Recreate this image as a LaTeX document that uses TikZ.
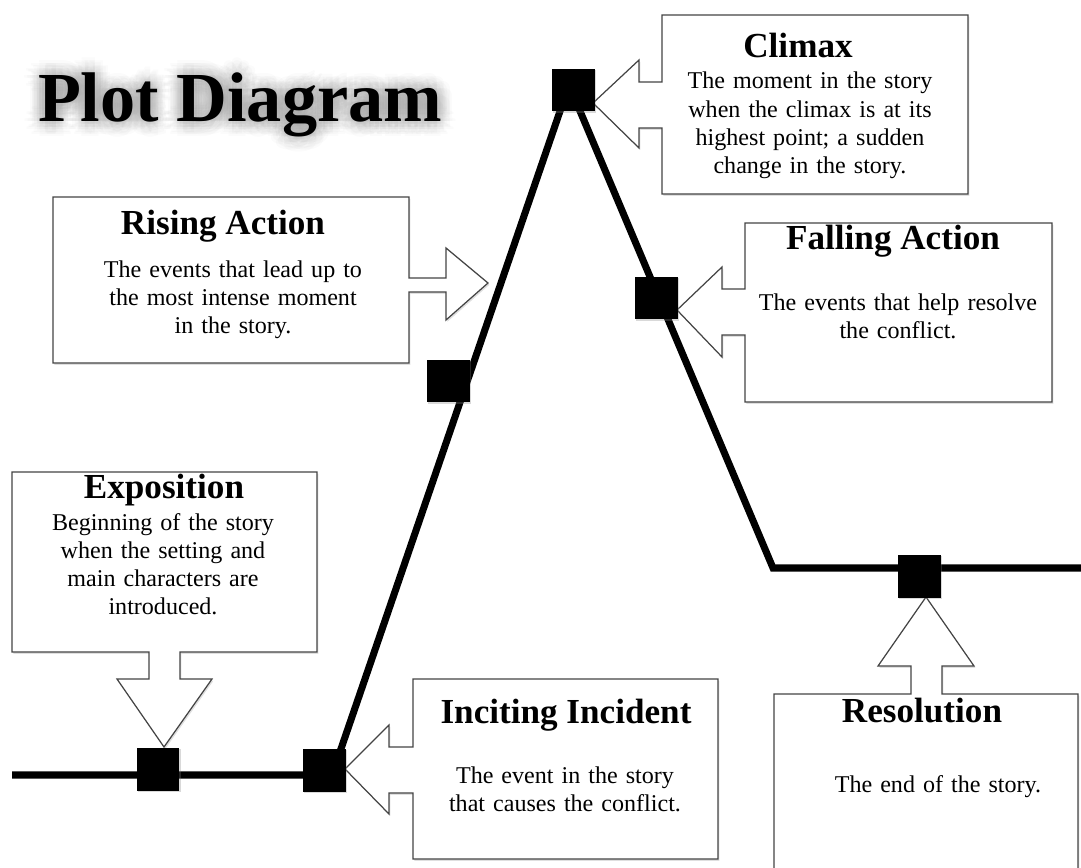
\documentclass[tikz,border=0pt]{standalone}
\usepackage{fontspec}
\setmainfont{Liberation Serif}
\usetikzlibrary{shadows}
\definecolor{calloutline}{RGB}{68,68,68}

\tikzset{
  plotline/.style={line width=4pt},
  plotmark/.style={fill=black, minimum size=0.86cm, inner sep=0pt,
    drop shadow={shadow xshift=0.8pt, shadow yshift=-1pt, opacity=0.3, fill=black!50}},
  callout/.style={draw=calloutline, line width=0.7pt, fill=white,
    drop shadow={shadow xshift=0.8pt, shadow yshift=-1pt, opacity=0.25, fill=black!50}},
  titletext/.style={font=\bfseries\fontsize{40}{48}\selectfont, anchor=base, inner sep=0pt},
  heading/.style={font=\bfseries\fontsize{20}{24}\selectfont, anchor=base, inner sep=0pt},
  blurb/.style={font=\fontsize{13.7}{16}\selectfont, text width=6cm, align=center,
    anchor=base, inner sep=0pt},
}

\begin{document}
\begin{tikzpicture}[x=0.02cm,y=-0.02cm]
\clip (0,0) rectangle (1081,868);

% title with its glow
\foreach \ang in {0,30,...,330}
  \foreach \rad in {3,6,9,12,15}
    \node[titletext, text=black!40, opacity=0.045] (glow-\ang-\rad) at ([shift={(\ang:\rad)}]240,122) {Plot Diagram};
\node[titletext] (title) at (240,122) {Plot Diagram};

% callout boxes
\draw[callout] (662,15) -- (968,15) -- (968,194) -- (662,194) -- (662,128) -- (639,128)
  -- (639,148) -- (593,103) -- (639,60) -- (639,82) -- (662,82) -- cycle;
\draw[callout] (53,197) -- (409,197) -- (409,278) -- (446,278) -- (446,248) -- (488,283)
  -- (446,320) -- (446,292) -- (409,292) -- (409,363) -- (53,363) -- cycle;
\draw[callout] (745,223) -- (1052,223) -- (1052,402) -- (745,402) -- (745,335) -- (722,335)
  -- (722,357) -- (677,310) -- (722,267) -- (722,289) -- (745,289) -- cycle;
\draw[callout] (12,472) -- (317,472) -- (317,652) -- (180,652) -- (180,679) -- (212,679)
  -- (164,747) -- (117,679) -- (149,679) -- (149,652) -- (12,652) -- cycle;
\draw[callout] (413,679) -- (718,679) -- (718,859) -- (413,859) -- (413,793) -- (389,793)
  -- (389,814) -- (345,769) -- (389,725) -- (389,747) -- (413,747) -- cycle;
\draw[callout] (774,694) -- (911,694) -- (911,666) -- (878,666) -- (926,597) -- (974,666)
  -- (942,666) -- (942,694) -- (1078,694) -- (1078,880) -- (774,880) -- cycle;

% the plot line
\coordinate (lowleft) at (12,775);
\coordinate (risefoot) at (332,775);
\coordinate (summit) at (569,85);
\coordinate (fallfoot) at (773,568);
\coordinate (lowright) at (1085,568);
\draw[plotline] (lowleft) -- (risefoot) -- (summit) -- (fallfoot) -- (lowright);

% markers
\node[plotmark] (expo) at (158,769) {};
\node[plotmark] (incite) at (324,770) {};
\node[plotmark] (rise) at (448,381) {};
\node[plotmark] (peak) at (573,90) {};
\node[plotmark] (fall) at (656,298) {};
\node[plotmark] (resol) at (919,576) {};

% texts
\node[heading] (climaxhead) at (798,58) {Climax};
\node[blurb] (climaxtext) at (810,89) {The moment in the story\\ when the climax is at its\\ highest point; a sudden\\ change in the story.};

\node[heading] (risehead) at (223,235) {Rising Action};
\node[blurb] (risetext) at (233,277) {The events that lead up to\\ the most intense moment\\ in the story.};

\node[heading] (fallhead) at (893,249) {Falling Action};
\node[blurb] (falltext) at (898,310) {The events that help resolve\\ the conflict.};

\node[heading] (expohead) at (164,498) {Exposition};
\node[blurb] (expotext) at (163,530) {Beginning of the story\\ when the setting and\\ main characters are\\ introduced.};

\node[heading] (incitehead) at (566,723) {Inciting Incident};
\node[blurb] (incitetext) at (565,783) {The event in the story\\ that causes the conflict.};

\node[heading] (resolhead) at (922,722) {Resolution};
\node[blurb] (resoltext) at (938,792) {The end of the story.};
\end{tikzpicture}
\end{document}
